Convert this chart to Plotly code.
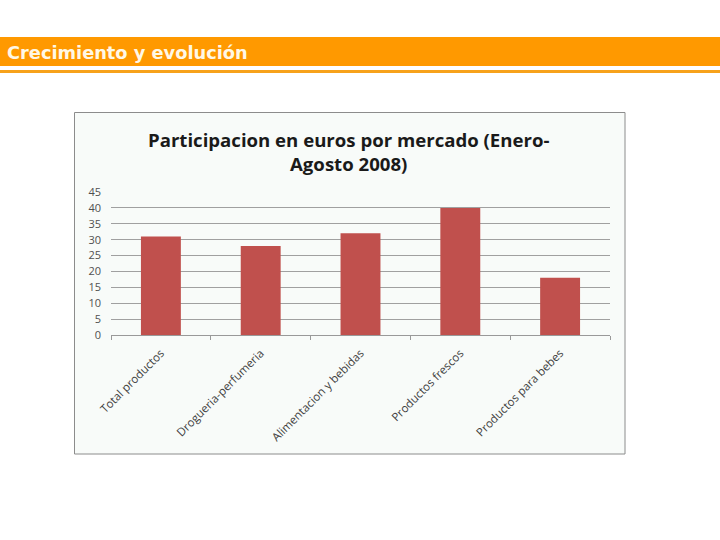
import plotly.graph_objects as go

categories = ["Total productos", "Drogueria-perfumeria", "Alimentacion y bebidas",
              "Productos frescos", "Productos para bebes"]
values = [31, 28, 32, 40, 18]
y_ticks = [0, 5, 10, 15, 20, 25, 30, 35, 40, 45]

W, H = 720, 540
def px(x): return x / W
def py(y): return 1 - y / H

fig = go.Figure()
fig.add_trace(go.Bar(x=categories, y=values, marker_color="#C0504D",
                     marker_line_width=0, hoverinfo="x+y"))

shapes = [
    dict(type="rect", xref="paper", yref="paper", x0=0, x1=1, y0=py(66), y1=py(37),
         fillcolor="#FF9900", line_width=0, layer="below"),
    dict(type="rect", xref="paper", yref="paper", x0=0, x1=1, y0=py(73), y1=py(70),
         fillcolor="#F7A21B", line_width=0, layer="below"),
    dict(type="rect", xref="paper", yref="paper", x0=px(74.5), x1=px(625), y0=py(454), y1=py(112.5),
         fillcolor="#F8FBF9", line=dict(color="#8C8C8C", width=1), layer="below"),
]

annotations = [
    dict(text="<b>Crecimiento y evolución</b>", xref="paper", yref="paper",
         x=px(5), y=py(52), xanchor="left", yanchor="middle", showarrow=False,
         font=dict(family="DejaVu Sans", size=17.8, color="#FFF8E6")),
    dict(text="<b>Participacion en euros por mercado (Enero-<br>Agosto 2008)</b>",
         xref="paper", yref="paper", x=px(348), y=py(151), xanchor="center", yanchor="middle",
         showarrow=False, font=dict(family="Open Sans", size=18.6, color="#1a1a1a")),
]

fig.update_layout(
    template="none",
    width=W, height=H, margin=dict(l=0, r=0, t=0, b=0, autoexpand=False),
    paper_bgcolor="white", plot_bgcolor="rgba(0,0,0,0)",
    shapes=shapes, annotations=annotations, showlegend=False, bargap=0.6,
    xaxis=dict(domain=[px(111), px(610)], tickangle=-45, tickson="boundaries",
               automargin=False, showgrid=False, zeroline=False,
               ticks="outside", ticklen=4, tickcolor="#999999",
               ticklabelstandoff=6,
               showline=True, linecolor="#999999", linewidth=1,
               tickfont=dict(family="Open Sans", size=11.5, color="#404040")),
    yaxis=dict(domain=[py(335), py(192)], range=[0, 45], tickvals=y_ticks,
               automargin=False, ticklabelstandoff=9,
               showgrid=True, gridcolor="#A0A0A0", gridwidth=1, zeroline=False,
               showline=False, ticks="", ticklen=0,
               tickfont=dict(family="Open Sans", size=11, color="#505050")),
)

fig.write_html("out.html", config={"displayModeBar": False},
               post_script="document.body.style.margin='0';document.body.style.padding='0';")
